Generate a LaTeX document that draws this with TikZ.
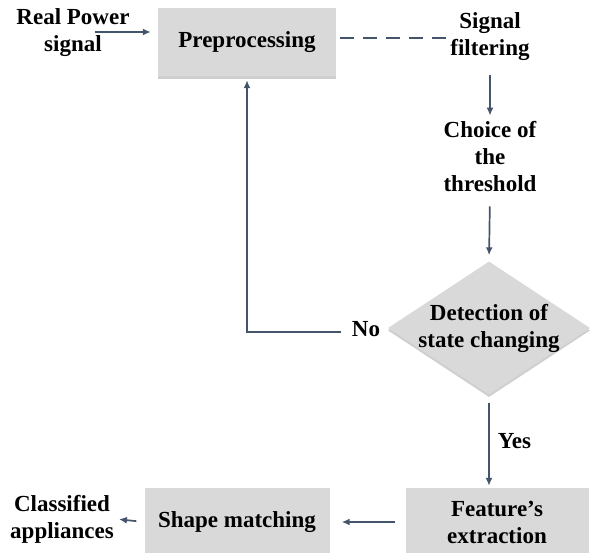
\documentclass[tikz,border=0pt]{standalone}
\usepackage{fontspec}
\setmainfont{Liberation Serif}
\usetikzlibrary{shapes.geometric,shadows,arrows.meta}
\definecolor{boxgray}{HTML}{D9D9D9}
\definecolor{linecol}{HTML}{44546A}
\begin{document}
\begin{tikzpicture}[x=1pt,y=-1pt,
		txt/.style={align=center,text=black,inner sep=2pt,
			font=\bfseries\fontsize{23}{27}\selectfont},
		box/.style={txt,fill=boxgray,minimum height=68pt,
			drop shadow={shadow xshift=0pt,shadow yshift=-2.5pt,fill=gray!75}},
		line/.style={draw=linecol,line width=1.7pt},
		arr/.style={line,-{Latex[length=8pt,width=7pt]}}]

		\useasboundingbox (0,0) rectangle (600,552);

		\node[txt] (rp) at (73,33) {Real Power\\signal};
		\node[box,minimum width=178pt] (pre) at (247,42) {Preprocessing};
		\node[txt] (sf) at (490,37) {Signal\\filtering};
		\node[txt] (ch) at (490,157) {Choice of\\the\\threshold};
		\node[shape=diamond,fill=boxgray,inner sep=0pt,
			minimum width=202pt,minimum height=133pt,
			drop shadow={shadow xshift=0pt,shadow yshift=-2.5pt,fill=gray!75}]
			(det) at (489,328) {};
		\node[txt] (dettext) at (det.center) {Detection of\\state changing};
		\node[txt] (no) at (366,329) {No};
		\node[box,minimum width=183pt] (fe) at (497,522) {Feature's\\extraction};
		\node[box,minimum width=185pt] (sm) at (237,522) {Shape matching};
		\node[txt] (cl) at (62,519) {Classified\\appliances};

		\coordinate (rpend) at (95,32);
		\draw[arr,shorten >=7pt] (rpend) -- (pre.west |- rpend);
		\draw[line,dashed,dash pattern=on 14pt off 9pt] ([xshift=4pt,yshift=4pt]pre.east) -- (sf.west |- {(0,38)});
		\draw[arr,shorten <=12pt,shorten >=4pt] (sf.south) -- (ch.north);
		\draw[arr,shorten <=12pt,shorten >=6pt] (ch.south) -- (det.north);
		\draw[arr,shorten <=9pt,shorten >=4pt] ([yshift=-3pt]no.west) -| (pre.south);
		\draw[arr,shorten <=8pt,shorten >=2pt] (det.south) -- node[txt,right=6pt]{Yes} (det.south |- fe.north);
		\draw[arr,shorten <=10pt,shorten >=12pt] (fe.west) -- (sm.east);
		\draw[arr,shorten <=8pt,shorten >=3pt] (sm.west) -- (cl.east);

\end{tikzpicture}
\end{document}
